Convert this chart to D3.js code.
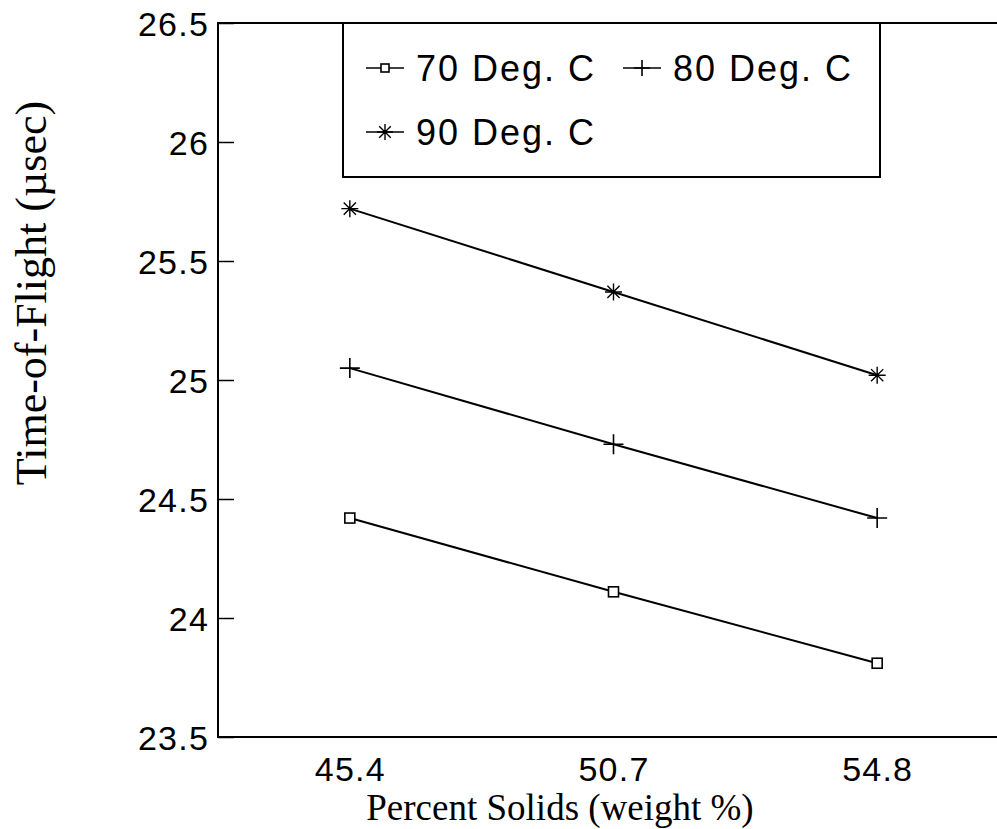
<!DOCTYPE html>
<html>
<head>
  <script src="https://d3js.org/d3.v7.min.js"></script>
  <style>
    body { margin: 0; background: white; }
    svg { display: block; }
    .tick-label { font-family: "Liberation Sans", Arial, sans-serif; font-size: 34px; letter-spacing: 1.2px; fill: black; }
    .legend-text { font-family: "Liberation Sans", Arial, sans-serif; font-size: 36px; letter-spacing: 2px; fill: black; }
    .title { font-family: "Liberation Serif", "Times New Roman", serif; fill: black; }
  </style>
</head>
<body>
<svg id="chart" width="997" height="829"></svg>
<script>
  // data
  var solids = ["45.4", "50.7", "54.8"];
  var seriesNames = ["70 Deg. C", "80 Deg. C", "90 Deg. C"];
  var tof70 = [24.42, 24.11, 23.81];
  var tof80 = [25.05, 24.73, 24.42];
  var tof90 = [25.72, 25.37, 25.02];
  var yTicks = [23.5, 24, 24.5, 25, 25.5, 26, 26.5];

  var series = [
    { name: seriesNames[0], values: tof70, marker: "square" },
    { name: seriesNames[1], values: tof80, marker: "plus" },
    { name: seriesNames[2], values: tof90, marker: "star" }
  ];

  var plotL = 218, plotT = 23, plotR = 1009, plotB = 737;
  var svg = d3.select("#chart");

  var x = d3.scalePoint(solids, [plotL, plotR]).padding(0.5);
  var y = d3.scaleLinear([23.5, 26.5], [plotB, plotT]);

  // frame (right edge falls outside the window)
  svg.append("path")
    .attr("d", `M${plotR},${plotT}H${plotL}V${plotB}H${plotR}`)
    .attr("stroke", "black").attr("stroke-width", 2).attr("fill", "none");

  // y axis: ticks pointing inward
  var yAxis = svg.append("g")
    .attr("transform", `translate(${plotL},0)`)
    .call(d3.axisRight(y).tickValues(yTicks).tickSize(16).tickFormat(d3.format("")));
  yAxis.attr("font-size", null).attr("font-family", null);
  yAxis.select(".domain").remove();
  yAxis.selectAll(".tick line").attr("stroke", "black").attr("stroke-width", 1.5);
  yAxis.selectAll(".tick text")
    .attr("class", "tick-label")
    .attr("x", -9)
    .attr("dy", "0.36em")
    .attr("text-anchor", "end");

  // x axis labels
  var xAxis = svg.append("g")
    .attr("transform", `translate(0,${plotB})`)
    .call(d3.axisBottom(x).tickSize(0).tickPadding(0));
  xAxis.attr("font-size", null).attr("font-family", null);
  xAxis.select(".domain").remove();
  xAxis.selectAll(".tick text")
    .attr("class", "tick-label")
    .attr("y", 44)
    .attr("dy", 0);

  // axis titles
  svg.append("text").attr("class", "title")
    .attr("font-size", 37)
    .attr("x", 560).attr("y", 820).attr("text-anchor", "middle")
    .text("Percent Solids (weight %)");
  svg.append("text").attr("class", "title")
    .attr("font-size", 44)
    .attr("transform", "translate(46,293) rotate(-90)")
    .attr("text-anchor", "middle")
    .text("Time-of-Flight (\u00b5sec)");

  function drawMarker(g, type, size) {
    var h = size / 2;
    if (type === "square") {
      g.append("rect").attr("x", -h).attr("y", -h).attr("width", size).attr("height", size)
        .attr("fill", "white").attr("stroke", "black").attr("stroke-width", 1.6);
    } else if (type === "plus") {
      g.append("path").attr("d", `M${-h},0H${h}M0,${-h}V${h}`)
        .attr("stroke", "black").attr("stroke-width", 1.6);
    } else {
      var d = h * 0.72;
      g.append("path").attr("d", `M${-h},0H${h}M${-d},${-d}L${d},${d}M${-d},${d}L${d},${-d}M0,${-h}V${h}`)
        .attr("stroke", "black").attr("stroke-width", 1.4);
    }
  }

  var line = d3.line().x((d, i) => x(solids[i])).y(d => y(d));

  series.forEach(function (s) {
    svg.append("path").datum(s.values)
      .attr("d", line)
      .attr("fill", "none").attr("stroke", "black").attr("stroke-width", 2);
    s.values.forEach(function (v, i) {
      var g = svg.append("g").attr("transform", `translate(${x(solids[i])},${y(v)})`);
      drawMarker(g, s.marker, s.marker === "square" ? 10 : (s.marker === "plus" ? 20 : 17));
    });
  });

  // legend
  var legend = svg.append("g");
  legend.append("rect")
    .attr("x", 343).attr("y", plotT).attr("width", 537).attr("height", 154)
    .attr("fill", "white").attr("stroke", "black").attr("stroke-width", 2);

  var legendPos = [[366, 68], [623, 68], [366, 132]];
  series.forEach(function (s, i) {
    var p = legendPos[i];
    var g = legend.append("g").attr("transform", `translate(${p[0]},${p[1]})`);
    g.append("line").attr("x1", 0).attr("x2", 38).attr("stroke", "black").attr("stroke-width", 1.5);
    var m = g.append("g").attr("transform", "translate(19,0)");
    drawMarker(m, s.marker, s.marker === "square" ? 8 : 16);
    g.append("text").attr("class", "legend-text")
      .attr("x", 50).attr("y", 13)
      .text(s.name);
  });
</script>
</body>
</html>
